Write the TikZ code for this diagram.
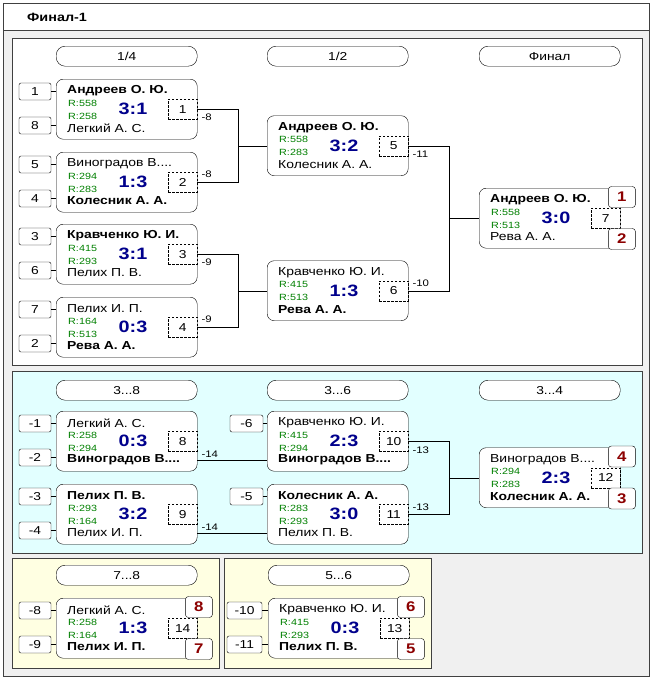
\documentclass[tikz,border=0pt]{standalone}
\usepackage{fontspec}
\setmainfont{Liberation Sans}[FakeStretch=1.2]
\usetikzlibrary{calc}

\definecolor{panelcyan}{RGB}{226,255,255}
\definecolor{panelyellow}{RGB}{255,255,226}

% one match: name, top-left corner, upper player, lower player, two ratings, score, number
\newcommand{\drawmatch}[8]{%
  \node[matchframe] (#1) at (#2) {};
  \node[player] (#1a) at ($(#1.north west)+(11,12)$) {#3};
  \node[rating] (#1r) at ($(#1.north west)+(12,24)$) {R:#5};
  \node[rating] (#1q) at ($(#1.north west)+(12,37)$) {R:#6};
  \node[player] (#1b) at ($(#1.north west)+(11,49)$) {#4};
  \node[score] (#1s) at ($(#1.north west)+(77,30)$) {#7};
  \node[numbox] (#1n) at (#1.east) {#8};
}

\begin{document}
\begin{tikzpicture}[x=1pt,y=-1pt,
    matchframe/.style={draw, fill=white, rounded corners=7pt, minimum width=141pt,
        minimum height=60pt, inner sep=0pt, anchor=north west},
    player/.style={anchor=west, inner sep=0pt, font=\fontsize{11.6}{13}\selectfont},
    rating/.style={anchor=west, inner sep=0pt, text=\colorRating, font=\fontsize{9}{10}\selectfont},
    score/.style={inner sep=0pt, text=\colorScore, font=\fontsize{16.5}{18}\selectfont\bfseries},
    numbox/.style={draw, dash pattern=on 2.5pt off 1.5pt, anchor=east, minimum width=29pt,
        minimum height=20pt, inner sep=0pt, font=\fontsize{11.5}{13}\selectfont},
    seedbox/.style={draw, fill=white, rounded corners=2pt, minimum width=32pt, minimum height=17pt,
        inner sep=0pt, font=\fontsize{11.5}{13}\selectfont},
    placebox/.style={draw, fill=white, rounded corners=3pt, minimum width=27pt, minimum height=21pt,
        inner sep=0pt, text=\colorPlace, font=\fontsize{14}{16}\selectfont\bfseries},
    roundhead/.style={draw, fill=white, rounded corners=9pt, minimum width=141pt, minimum height=20pt,
        inner sep=0pt, anchor=north west, font=\fontsize{11.5}{13}\selectfont},
    outlabel/.style={anchor=west, inner sep=1pt, font=\fontsize{9.5}{11}\selectfont},
    panel/.style={draw=black!75, line width=0.8pt}]

    % Colori
    \def\colorBack{black!6}
    \def\colorCyan{panelcyan}
    \def\colorYellow{panelyellow}
    \def\colorScore{blue!55!black}
    \def\colorRating{green!50!black}
    \def\colorPlace{red!55!black}

    \useasboundingbox (0,0) rectangle (654,681);

    % Cornice e pannelli
    \filldraw[panel, fill=\colorBack] (3,3) rectangle (649,676);
    \filldraw[panel, fill=white] (3,3) rectangle (649,30);
    \node[anchor=west, inner sep=0pt, font=\fontsize{12}{14}\selectfont\bfseries] (title) at (27,17) {Финал-1};
    \filldraw[panel, fill=white] (12,38) rectangle (642,365);
    \filldraw[panel, fill=\colorCyan] (12,371) rectangle (642,553);
    \filldraw[panel, fill=\colorYellow] (12,558) rectangle (219,668);
    \filldraw[panel, fill=\colorYellow] (224,558) rectangle (431,668);

    % Intestazioni
    \node[roundhead] (h1) at (56,46) {1/4};
    \node[roundhead] (h2) at (267,46) {1/2};
    \node[roundhead] (h3) at (479,46) {Финал};
    \node[roundhead] (h4) at (56,380) {3...8};
    \node[roundhead] (h5) at (267,380) {3...6};
    \node[roundhead] (h6) at (479,380) {3...4};
    \node[roundhead] (h7) at (56,565) {7...8};
    \node[roundhead] (h8) at (268,565) {5...6};

    % Incontri 1..7
    \drawmatch{m1}{56,79}{\textbf{Андреев О. Ю.}}{Легкий А. С.}{558}{258}{3:1}{1}
    \drawmatch{m2}{56,152}{Виноградов В....}{\textbf{Колесник А. А.}}{294}{283}{1:3}{2}
    \drawmatch{m3}{56,224}{\textbf{Кравченко Ю. И.}}{Пелих П. В.}{415}{293}{3:1}{3}
    \drawmatch{m4}{56,297}{Пелих И. П.}{\textbf{Рева А. А.}}{164}{513}{0:3}{4}
    \drawmatch{m5}{267,115.5}{\textbf{Андреев О. Ю.}}{Колесник А. А.}{558}{283}{3:2}{5}
    \drawmatch{m6}{267,260.5}{Кравченко Ю. И.}{\textbf{Рева А. А.}}{415}{513}{1:3}{6}
    \drawmatch{m7}{479,188}{\textbf{Андреев О. Ю.}}{Рева А. А.}{558}{513}{3:0}{7}

    % Incontri 8..12
    \drawmatch{m8}{56,411}{Легкий А. С.}{\textbf{Виноградов В....}}{258}{294}{0:3}{8}
    \drawmatch{m9}{56,484}{\textbf{Пелих П. В.}}{Пелих И. П.}{293}{164}{3:2}{9}
    \drawmatch{m10}{267,411}{Кравченко Ю. И.}{\textbf{Виноградов В....}}{415}{294}{2:3}{10}
    \drawmatch{m11}{267,484}{\textbf{Колесник А. А.}}{Пелих П. В.}{283}{293}{3:0}{11}
    \drawmatch{m12}{479,447.5}{Виноградов В....}{\textbf{Колесник А. А.}}{294}{283}{2:3}{12}

    % Incontri 13, 14
    \drawmatch{m14}{56,598}{Легкий А. С.}{\textbf{Пелих И. П.}}{258}{164}{1:3}{14}
    \drawmatch{m13}{268,598}{Кравченко Ю. И.}{\textbf{Пелих П. В.}}{415}{293}{0:3}{13}

    % Teste di serie
    \node[seedbox] (s1) at (35,91.5) {1};
    \node[seedbox] (s8) at (35,125.5) {8};
    \node[seedbox] (s5) at (35,164.5) {5};
    \node[seedbox] (s4) at (35,198.5) {4};
    \node[seedbox] (s3) at (35,236.5) {3};
    \node[seedbox] (s6) at (35,270.5) {6};
    \node[seedbox] (s7) at (35,309.5) {7};
    \node[seedbox] (s2) at (35,343.5) {2};
    \draw (s1) -- (m1.west |- s1);
    \draw (s8) -- (m1.west |- s8);
    \draw (s5) -- (m2.west |- s5);
    \draw (s4) -- (m2.west |- s4);
    \draw (s3) -- (m3.west |- s3);
    \draw (s6) -- (m3.west |- s6);
    \draw (s7) -- (m4.west |- s7);
    \draw (s2) -- (m4.west |- s2);

    \node[seedbox] (l1) at (35,423.5) {-1};
    \node[seedbox] (l2) at (35,457.5) {-2};
    \node[seedbox] (l3) at (35,496.5) {-3};
    \node[seedbox] (l4) at (35,530.5) {-4};
    \node[seedbox, minimum width=33pt] (l6) at (246.5,423.5) {-6};
    \node[seedbox, minimum width=33pt] (l5) at (246.5,496.5) {-5};
    \draw (l1) -- (m8.west |- l1);
    \draw (l2) -- (m8.west |- l2);
    \draw (l3) -- (m9.west |- l3);
    \draw (l4) -- (m9.west |- l4);
    \draw (l6) -- (m10.west |- l6);
    \draw (l5) -- (m11.west |- l5);

    \node[seedbox] (l8) at (35,610.5) {-8};
    \node[seedbox] (l9) at (35,644.5) {-9};
    \node[seedbox, minimum width=35pt] (l10) at (244.5,610.5) {-10};
    \node[seedbox, minimum width=35pt] (l11) at (244.5,644.5) {-11};
    \draw (l8) -- (m14.west |- l8);
    \draw (l9) -- (m14.west |- l9);
    \draw (l10) -- (m13.west |- l10);
    \draw (l11) -- (m13.west |- l11);

    % Tabellone
    \draw (m1n.east) -- ++(41,0) |- (m2n.east);
    \draw (m3n.east) -- ++(41,0) |- (m4n.east);
    \draw (m5.west) -- ++(-29,0);
    \draw (m6.west) -- ++(-29,0);
    \draw (m5n.east) -- ++(41,0) |- (m6n.east);
    \draw (m7.west) -- ++(-30,0);
    \draw (m8.east |- m8b) -- (m10.west |- m8b);
    \draw (m9.east |- m9b) -- (m11.west |- m9b);
    \draw (m10n.east) -- ++(41,0) |- (m11n.east);
    \draw (m12.west) -- ++(-30,0);

    % Perdenti
    \node[outlabel] (o1) at ($(m1n.east)+(3,8)$) {-8};
    \node[outlabel] (o2) at ($(m2n.east)+(3,-8)$) {-8};
    \node[outlabel] (o3) at ($(m3n.east)+(3,8)$) {-9};
    \node[outlabel] (o4) at ($(m4n.east)+(3,-8)$) {-9};
    \node[outlabel] (o5) at ($(m5n.east)+(3,9)$) {-11};
    \node[outlabel] (o6) at ($(m6n.east)+(3,-7)$) {-10};
    \node[outlabel] (o8) at ($(m8.east |- m8b)+(3,-6)$) {-14};
    \node[outlabel] (o9) at ($(m9.east |- m9b)+(3,-6)$) {-14};
    \node[outlabel] (o10) at ($(m10n.east)+(3,9)$) {-13};
    \node[outlabel] (o11) at ($(m11n.east)+(3,-7)$) {-13};

    % Posti
    \node[placebox] (p1) at ($(m7.north east)+(1.5,9)$) {1};
    \node[placebox] (p2) at ($(m7.north east)+(1.5,51)$) {2};
    \node[placebox] (p4) at ($(m12.north east)+(1.5,9)$) {4};
    \node[placebox] (p3) at ($(m12.north east)+(1.5,51)$) {3};
    \node[placebox] (p8) at ($(m14.north east)+(1.5,9)$) {8};
    \node[placebox] (p7) at ($(m14.north east)+(1.5,51)$) {7};
    \node[placebox] (p6) at ($(m13.north east)+(1.5,9)$) {6};
    \node[placebox] (p5) at ($(m13.north east)+(1.5,51)$) {5};

\end{tikzpicture}
\end{document}
